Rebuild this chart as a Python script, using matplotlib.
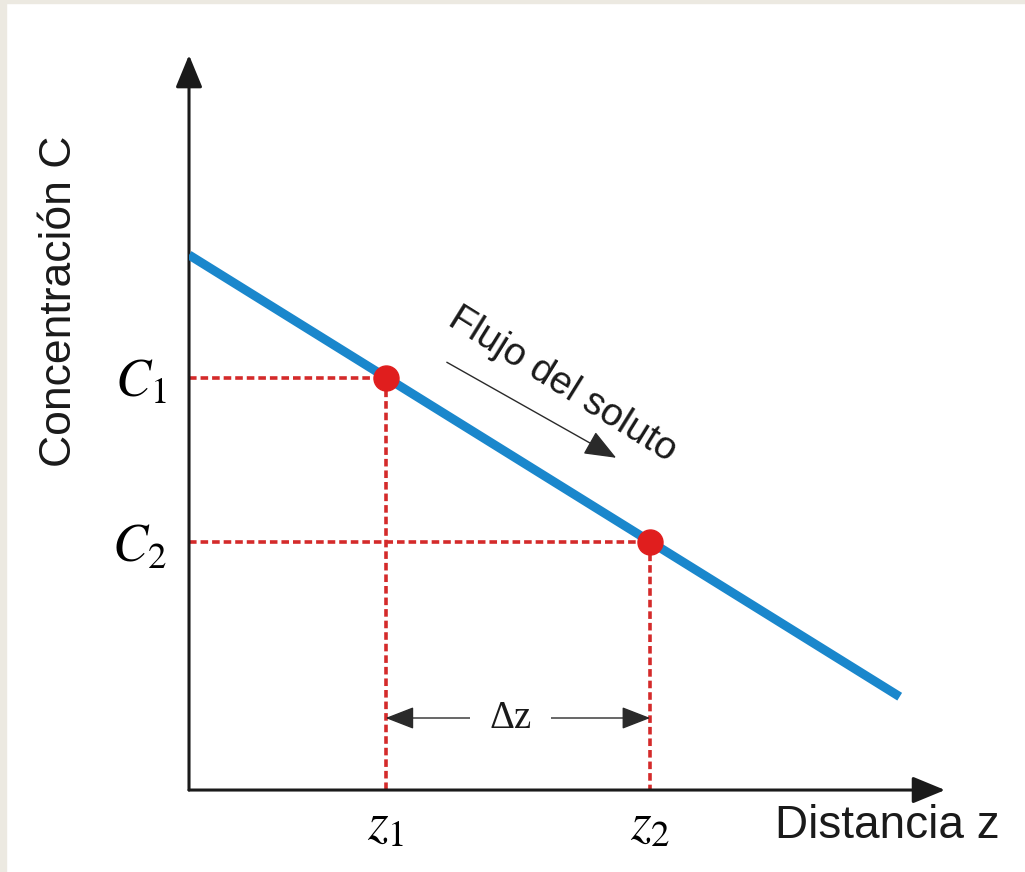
import matplotlib
matplotlib.use("Agg")
import matplotlib.pyplot as plt
from matplotlib.patches import Rectangle

plt.rcParams['font.family'] = ['Liberation Sans', 'DejaVu Sans']
plt.rcParams['mathtext.fontset'] = 'stix'

# concentration profile (arbitrary units)
z_line = [0.0, 9.4]
c_line = [7.28, 1.27]

# the two marked points
z_pts = [2.6, 6.1]
c_pts = [5.61, 3.37]
z_labels = [r'$z_1$', r'$z_2$']
c_labels = [r'$C_1$', r'$C_2$']

# annotations
flux_start = (3.41, 5.82)
flux_end = (5.65, 4.52)
flux_text_pos = (4.94, 5.52)
dz_level = 0.98

fig = plt.figure(figsize=(10.25, 8.72), dpi=100)
fig.patch.set_facecolor('white')
# beige frame strips of the original screenshot
fig.patches.append(Rectangle((0, 0), 6 / 1025, 1, transform=fig.transFigure,
                             color='#ece9e1', zorder=0))
fig.patches.append(Rectangle((0, 1 - 3 / 872), 1, 3 / 872, transform=fig.transFigure,
                             color='#ece9e1', zorder=0))

ax = fig.add_axes([0.1844, 0.094, 0.7376, 0.8429])
ax.set_xlim(0, 10)
ax.set_ylim(0, 10)
ax.patch.set_alpha(0)
for s in ax.spines.values():
    s.set_visible(False)

# axes with arrow heads
ax.annotate('', xy=(0, 10), xytext=(0, 0),
            arrowprops=dict(arrowstyle='-|>,head_length=0.8,head_width=0.33',
                            mutation_scale=25, lw=2.2, color='#1a1a1a',
                            shrinkA=0, shrinkB=0), annotation_clip=False)
ax.annotate('', xy=(10, 0), xytext=(0, 0),
            arrowprops=dict(arrowstyle='-|>,head_length=0.8,head_width=0.33',
                            mutation_scale=25, lw=2.2, color='#1a1a1a',
                            shrinkA=0, shrinkB=0), annotation_clip=False)

# dashed guide lines
red = '#d42a2a'
for z, c in zip(z_pts, c_pts):
    ax.plot([0, z], [c, c], color=red, lw=2.6, dashes=(2.1, 1.1), zorder=2)
    ax.plot([z, z], [c, 0], color=red, lw=2.6, dashes=(2.1, 1.1), zorder=2)

# profile line and points
ax.plot(z_line, c_line, color='#1a87cc', lw=6.5, solid_capstyle='butt', zorder=3)
ax.plot(z_pts, c_pts, 'o', color='#e01e1e', ms=18, zorder=4)

# tick labels
ax.set_xticks(z_pts)
ax.set_xticklabels(z_labels, fontsize=38)
ax.set_yticks(c_pts)
ax.set_yticklabels(c_labels, fontsize=38)
ax.tick_params(length=0, pad=8)
ax.tick_params(axis='y', pad=16)

# flux arrow and text
ax.annotate('', xy=flux_end, xytext=flux_start,
            arrowprops=dict(arrowstyle='-|>,head_length=1.0,head_width=0.4',
                            mutation_scale=20, lw=1.0, color='#2a2a2a',
                            shrinkA=0, shrinkB=0))
ax.text(flux_text_pos[0], flux_text_pos[1], 'Flujo del soluto', fontsize=28,
        rotation=-31.9, rotation_mode='anchor', ha='center', va='center',
        color='#1a1a1a')

# delta z arrow
ax.annotate('', xy=(z_pts[1], dz_level), xytext=(z_pts[0], dz_level),
            arrowprops=dict(arrowstyle='<|-|>,head_length=0.9,head_width=0.35',
                            mutation_scale=20, lw=1.0, color='#2a2a2a',
                            shrinkA=0, shrinkB=0), zorder=3)
ax.text((z_pts[0] + z_pts[1]) / 2 - 0.1, dz_level, 'Δz', fontsize=28,
        family=['Liberation Serif', 'DejaVu Serif'], ha='center', va='center',
        color='#1a1a1a', zorder=4,
        bbox=dict(facecolor='white', edgecolor='none', pad=14))

# axis titles
fig.text(0.058, 0.654, 'Concentración C', rotation=90, fontsize=32,
         ha='center', va='center', color='#1a1a1a')
fig.text(0.9756, 0.053, 'Distancia z', fontsize=33, ha='right', va='center',
         color='#1a1a1a')

fig.savefig('out.png', dpi=100, facecolor=fig.get_facecolor())
